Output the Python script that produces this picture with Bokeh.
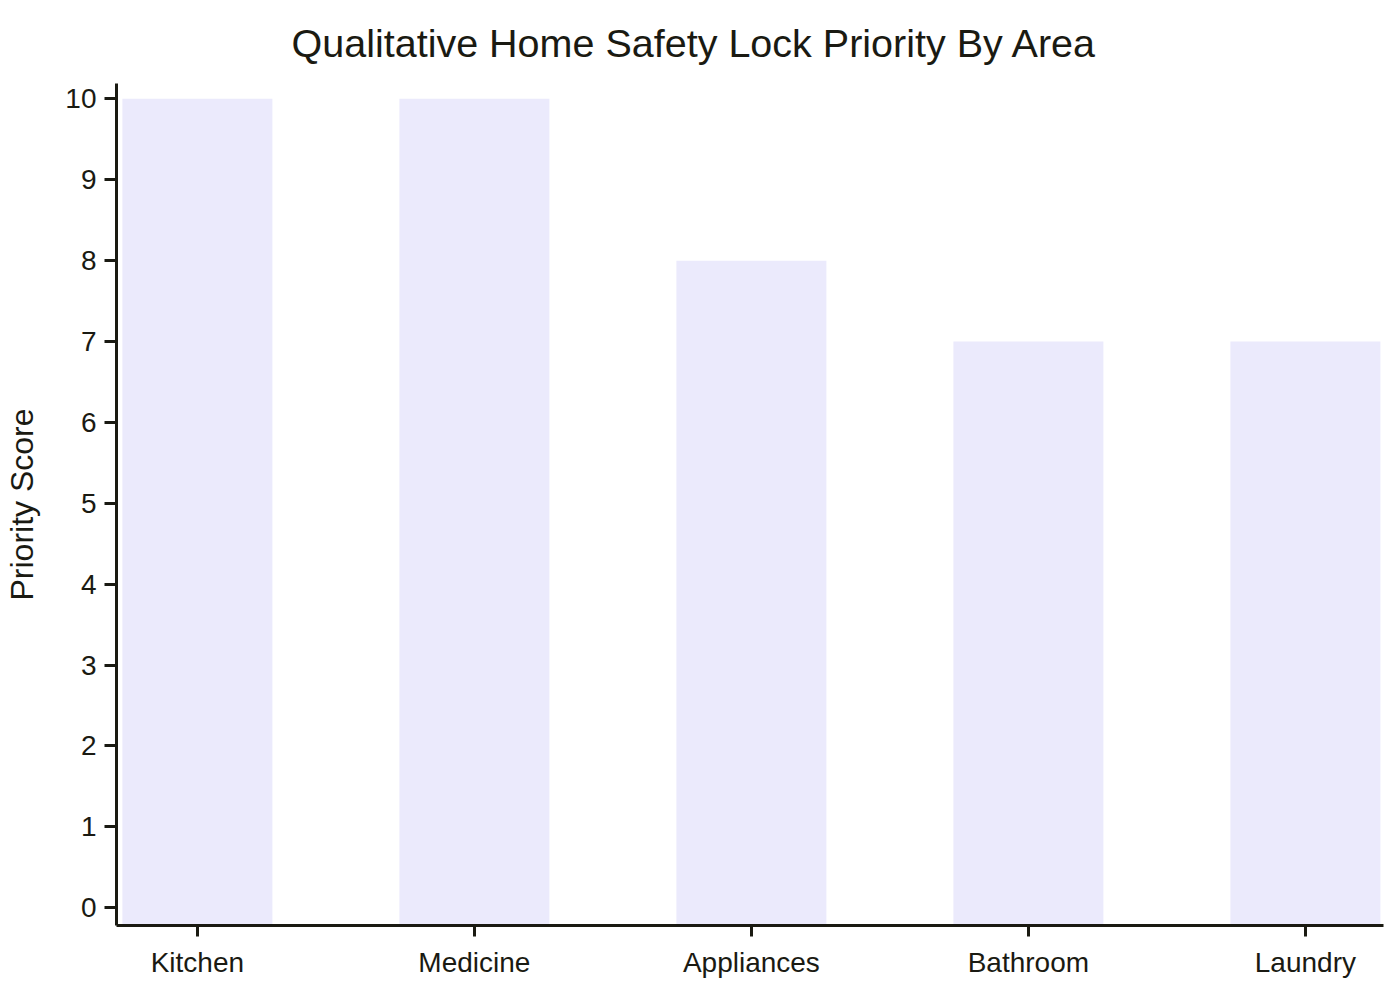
from bokeh.plotting import figure
from bokeh.models import Range1d, FixedTicker, Title, ColumnDataSource
from bokeh.embed import file_html
from bokeh.resources import INLINE

# ---- data ----
areas = ["Kitchen", "Medicine", "Appliances", "Bathroom", "Laundry"]
priority_scores = [10, 10, 8, 7, 7]
y_ticks = [0, 1, 2, 3, 4, 5, 6, 7, 8, 9, 10]

TEXT = "#1a1a12"
BAR = "#EBEAFC"
FONT = "Liberation Sans"

x_pos = list(range(len(areas)))
y_start, y_end = -0.22, 10.19

src = ColumnDataSource(dict(x=x_pos, top=priority_scores,
                            bottom=[y_start] * len(areas)))

p = figure(width=1384, height=984, output_backend="svg", toolbar_location=None,
           x_range=Range1d(-0.292, 4.282), y_range=Range1d(y_start, y_end),
           min_border_left=116, min_border_right=1, min_border_top=83,
           min_border_bottom=59, outline_line_color=None,
           background_fill_color="white", border_fill_color="white")

p.vbar(x="x", top="top", bottom="bottom", width=0.5415, source=src,
       fill_color=BAR, line_color=None)

t = Title(text="Qualitative Home Safety Lock Priority By Area", align="left",
          offset=175, text_font=FONT, text_font_size="39.5px",
          text_font_style="normal", text_color=TEXT, standoff=37)
p.add_layout(t, "above")

p.xgrid.visible = False
p.ygrid.visible = False

for ax in (p.xaxis[0], p.yaxis[0]):
    ax.axis_line_color = TEXT
    ax.axis_line_width = 3
    ax.major_tick_line_color = TEXT
    ax.major_tick_line_width = 3
    ax.minor_tick_line_color = None
    ax.major_tick_in = 0
    ax.major_label_text_font = FONT
    ax.major_label_text_font_size = "28px"
    ax.major_label_text_color = TEXT

p.xaxis.ticker = FixedTicker(ticks=x_pos)
p.xaxis.major_label_overrides = {i: a for i, a in enumerate(areas)}
p.xaxis.major_tick_out = 11
p.xaxis.major_label_standoff = 10

p.yaxis.ticker = FixedTicker(ticks=y_ticks)
p.yaxis.major_tick_out = 12
p.yaxis.major_label_standoff = 8
p.yaxis.axis_label = "Priority Score"
p.yaxis.axis_label_text_font = FONT
p.yaxis.axis_label_text_font_size = "32px"
p.yaxis.axis_label_text_font_style = "normal"
p.yaxis.axis_label_text_color = TEXT
p.yaxis.axis_label_standoff = 22

open("out.html", "w").write(file_html(p, INLINE))
